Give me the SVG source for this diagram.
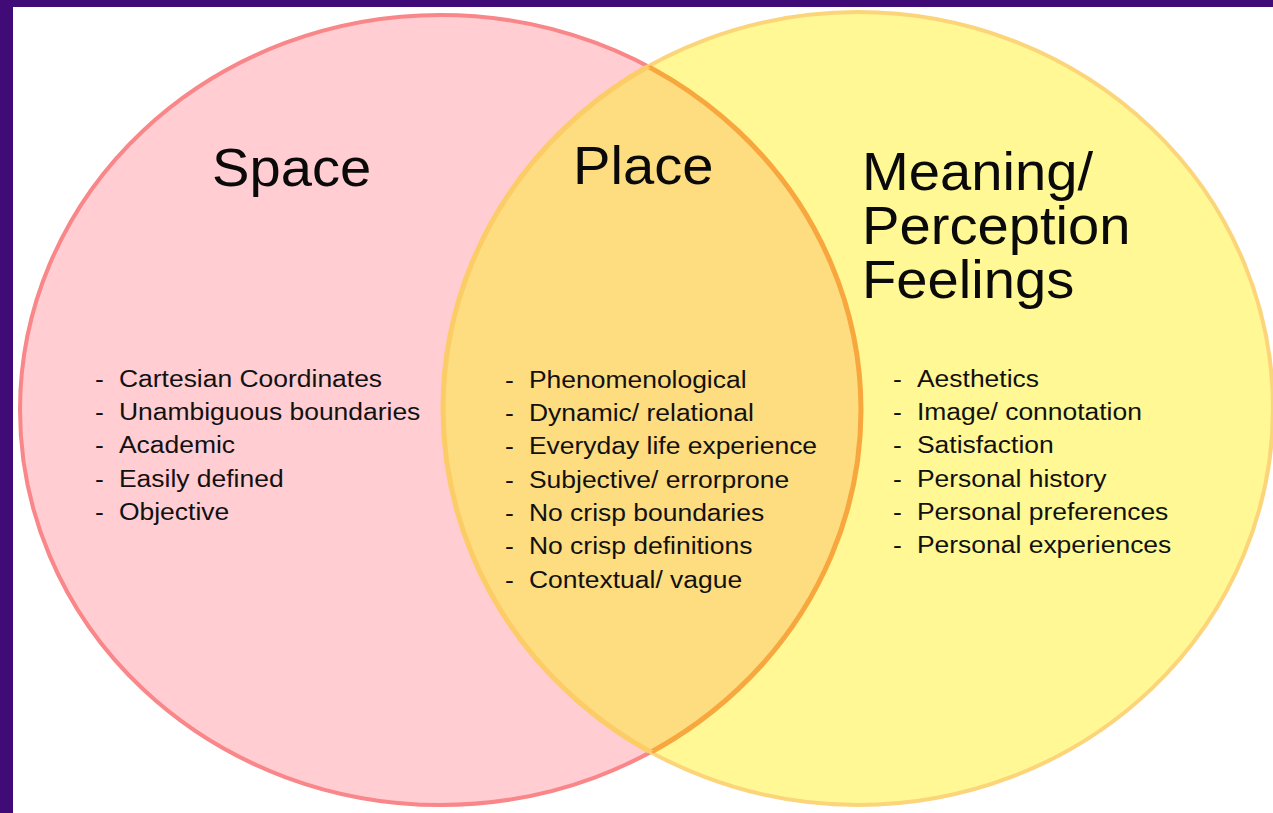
<svg xmlns="http://www.w3.org/2000/svg" width="1273" height="813" viewBox="0 0 1273 813">
  <style>
    .title { font-family: "Liberation Sans", Arial, sans-serif; font-size: 53px; fill: #0a0a0a; }
    .item { font-family: "Liberation Sans", Arial, sans-serif; font-size: 24.5px; fill: #111; }
  </style>
  <defs>
    <clipPath id="clipRight"><ellipse cx="858" cy="408.5" rx="415" ry="396.5"/></clipPath>
    <clipPath id="clipLeft"><ellipse cx="440.5" cy="410" rx="420.5" ry="395"/></clipPath>
  </defs>
  <rect x="0" y="0" width="1273" height="813" fill="#ffffff"/>
  <rect x="0" y="0" width="1273" height="7" fill="#400b77"/>
  <rect x="0" y="0" width="13" height="813" fill="#400b77"/>

  <g id="space-circle">
    <ellipse cx="440.5" cy="410" rx="420.5" ry="395" fill="#ffcdd2" stroke="#f98688" stroke-width="4"/>
  </g>
  <g id="meaning-circle">
    <ellipse cx="858" cy="408.5" rx="415" ry="396.5" fill="#fff894" stroke="#fcd47a" stroke-width="4"/>
  </g>
  <g id="place-overlap">
    <ellipse cx="440.5" cy="410" rx="420.5" ry="395" fill="#fedc80" clip-path="url(#clipRight)"/>
    <ellipse cx="440.5" cy="410" rx="420.5" ry="395" fill="none" stroke="#f8a63e" stroke-width="5" clip-path="url(#clipRight)"/>
    <ellipse cx="858" cy="408.5" rx="415" ry="396.5" fill="none" stroke="#fccc66" stroke-width="5" clip-path="url(#clipLeft)"/>
  </g>

  <g id="space">
    <g transform="translate(212,0) scale(1.06,1)"><text class="title" x="0" y="186">Space</text></g>
    <g transform="translate(95,0) scale(1.08,1)">
      <text class="item" y="387"><tspan x="0">-</tspan><tspan x="22.2">Cartesian Coordinates</tspan></text>
      <text class="item" y="420"><tspan x="0">-</tspan><tspan x="22.2">Unambiguous boundaries</tspan></text>
      <text class="item" y="453.5"><tspan x="0">-</tspan><tspan x="22.2">Academic</tspan></text>
      <text class="item" y="487"><tspan x="0">-</tspan><tspan x="22.2">Easily defined</tspan></text>
      <text class="item" y="520"><tspan x="0">-</tspan><tspan x="22.2">Objective</tspan></text>
    </g>
  </g>

  <g id="place">
    <g transform="translate(573,0) scale(1.06,1)"><text class="title" x="0" y="184">Place</text></g>
    <g transform="translate(505,0) scale(1.08,1)">
      <text class="item" y="388"><tspan x="0">-</tspan><tspan x="22.2">Phenomenological</tspan></text>
      <text class="item" y="421"><tspan x="0">-</tspan><tspan x="22.2">Dynamic/ relational</tspan></text>
      <text class="item" y="454.5"><tspan x="0">-</tspan><tspan x="22.2">Everyday life experience</tspan></text>
      <text class="item" y="488"><tspan x="0">-</tspan><tspan x="22.2">Subjective/ errorprone</tspan></text>
      <text class="item" y="521"><tspan x="0">-</tspan><tspan x="22.2">No crisp boundaries</tspan></text>
      <text class="item" y="554.5"><tspan x="0">-</tspan><tspan x="22.2">No crisp definitions</tspan></text>
      <text class="item" y="588"><tspan x="0">-</tspan><tspan x="22.2">Contextual/ vague</tspan></text>
    </g>
  </g>

  <g id="meaning">
    <g transform="translate(862,0) scale(1.06,1)">
      <text class="title" x="0" y="190">Meaning/</text>
      <text class="title" x="0" y="244">Perception</text>
      <text class="title" x="0" y="298">Feelings</text>
    </g>
    <g transform="translate(893,0) scale(1.08,1)">
      <text class="item" y="387"><tspan x="0">-</tspan><tspan x="22.2">Aesthetics</tspan></text>
      <text class="item" y="420"><tspan x="0">-</tspan><tspan x="22.2">Image/ connotation</tspan></text>
      <text class="item" y="453.5"><tspan x="0">-</tspan><tspan x="22.2">Satisfaction</tspan></text>
      <text class="item" y="487"><tspan x="0">-</tspan><tspan x="22.2">Personal history</tspan></text>
      <text class="item" y="520"><tspan x="0">-</tspan><tspan x="22.2">Personal preferences</tspan></text>
      <text class="item" y="553.5"><tspan x="0">-</tspan><tspan x="22.2">Personal experiences</tspan></text>
    </g>
  </g>
  <g id="connectors"/>
</svg>
